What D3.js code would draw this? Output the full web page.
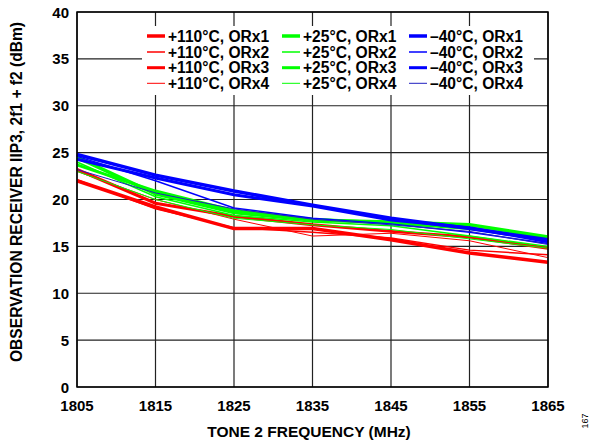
<!DOCTYPE html>
<html><head><meta charset="utf-8">
<script src="https://cdn.jsdelivr.net/npm/d3@7"></script>
<style>
body{margin:0;background:#fff;}
text{font-family:Arial,"Liberation Sans",sans-serif;font-weight:bold;}
</style></head>
<body><svg id="c" width="593" height="440"></svg>
<script>
const freqs = [1805, 1815, 1825, 1835, 1845, 1855, 1865];
const xTicks = [1805, 1815, 1825, 1835, 1845, 1855, 1865];
const yTicks = [0, 5, 10, 15, 20, 25, 30, 35, 40];

const red1 = [22.0, 19.2, 16.9, 16.9, 15.7, 14.3, 13.3];
const red2 = [22.1, 19.0, 17.0, 16.5, 15.9, 14.6, 14.1];
const red3 = [23.2, 19.6, 18.2, 17.3, 16.6, 16.0, 14.8];
const red4 = [23.0, 20.0, 17.9, 16.1, 16.4, 15.6, 13.8];
const green1 = [24.5, 20.6, 18.6, 17.8, 17.6, 17.3, 16.0];
const green2 = [24.0, 20.3, 18.3, 17.6, 17.2, 16.1, 15.0];
const green3 = [23.7, 20.9, 18.8, 17.9, 17.5, 16.9, 15.8];
const green4 = [23.0, 20.0, 18.0, 17.3, 16.8, 15.8, 14.8];
const blue1 = [24.8, 22.6, 20.9, 19.4, 18.0, 16.9, 15.7];
const blue2 = [24.6, 22.0, 19.1, 18.0, 17.4, 16.5, 15.3];
const blue3 = [24.3, 22.3, 20.5, 19.3, 17.8, 17.0, 15.5];
const blue4 = [23.2, 20.7, 19.0, 17.9, 17.3, 16.6, 15.2];

const labels = ["+110°C, ORx1","+110°C, ORx2","+110°C, ORx3","+110°C, ORx4",
                "+25°C, ORx1","+25°C, ORx2","+25°C, ORx3","+25°C, ORx4",
                "\u201340°C, ORx1","\u201340°C, ORx2","\u201340°C, ORx3","\u201340°C, ORx4"];
const seriesVals = [red1,red2,red3,red4,green1,green2,green3,green4,blue1,blue2,blue3,blue4];
const colors = ["#ff0000","#ff0000","#ff0000","#ff0000","#00ff00","#00ff00","#00ff00","#00ff00","#0000ff","#0000ff","#0000ff","#2020c0"];
const widths = [3.5,1.5,3,1,3.5,1.5,3,1,3.5,1.5,3,1];

const svg = d3.select("#c");
const L = 77, R = 548, T = 12, B = 387;
const x = d3.scaleLinear().domain([1805,1865]).range([L,R]);
const y = d3.scaleLinear().domain([0,40]).range([B,T]);

// grid
svg.append("g").selectAll("line").data(xTicks).join("line")
  .attr("x1",d=>x(d)).attr("x2",d=>x(d)).attr("y1",T).attr("y2",B)
  .attr("stroke","#222").attr("stroke-width",1.2);
svg.append("g").selectAll("line").data(yTicks).join("line")
  .attr("x1",L).attr("x2",R).attr("y1",d=>y(d)).attr("y2",d=>y(d))
  .attr("stroke","#222").attr("stroke-width",1.2);

// legend background
svg.append("rect").attr("x",142).attr("y",26).attr("width",392).attr("height",69).attr("fill","#fff");

// lines
const line = d3.line().x((d,i)=>x(freqs[i])).y(d=>y(d));
const order = [0,1,2,3,4,5,6,7,8,9,10,11];
svg.append("g").selectAll("path").data(order).join("path")
  .attr("d",i=>line(seriesVals[i])).attr("fill","none")
  .attr("stroke",i=>colors[i]).attr("stroke-width",i=>widths[i]);

// frame
svg.append("rect").attr("x",L).attr("y",T).attr("width",R-L).attr("height",B-T)
  .attr("fill","none").attr("stroke","#000").attr("stroke-width",1.5);

// axes labels
svg.append("g").selectAll("text").data(yTicks).join("text")
  .attr("x",69).attr("y",d=>y(d)+5.5).attr("text-anchor","end")
  .attr("font-size",15).text(d=>d);
svg.append("g").selectAll("text").data(xTicks).join("text")
  .attr("x",d=>x(d)).attr("y",411).attr("text-anchor","middle")
  .attr("font-size",15).text(d=>d);

svg.append("text").attr("x",309).attr("y",437).attr("text-anchor","middle")
  .attr("font-size",15.5).text("TONE 2 FREQUENCY (MHz)");
svg.append("text").attr("transform","translate(22,192) rotate(-90)")
  .attr("text-anchor","middle").attr("font-size",15.6)
  .text("OBSERVATION RECEIVER IIP3, 2f1 + f2 (dBm)");
svg.append("text").attr("transform","translate(588,421) rotate(-90)")
  .attr("text-anchor","middle").attr("font-size",9)
  .style("font-weight","normal").text("167");

// legend
const colX = [147, 282, 409];
const rowY = [36, 52, 67.7, 83.3];
const lg = svg.append("g");
labels.forEach((lab,i)=>{
  const c = Math.floor(i/4), r = i%4;
  lg.append("line").attr("x1",colX[c]).attr("x2",colX[c]+18)
    .attr("y1",rowY[r]).attr("y2",rowY[r])
    .attr("stroke",colors[i]).attr("stroke-width",widths[i]);
  lg.append("text").attr("x",colX[c]+21).attr("y",rowY[r]+5.5)
    .attr("font-size",15.6).text(lab);
});
</script></body></html>
